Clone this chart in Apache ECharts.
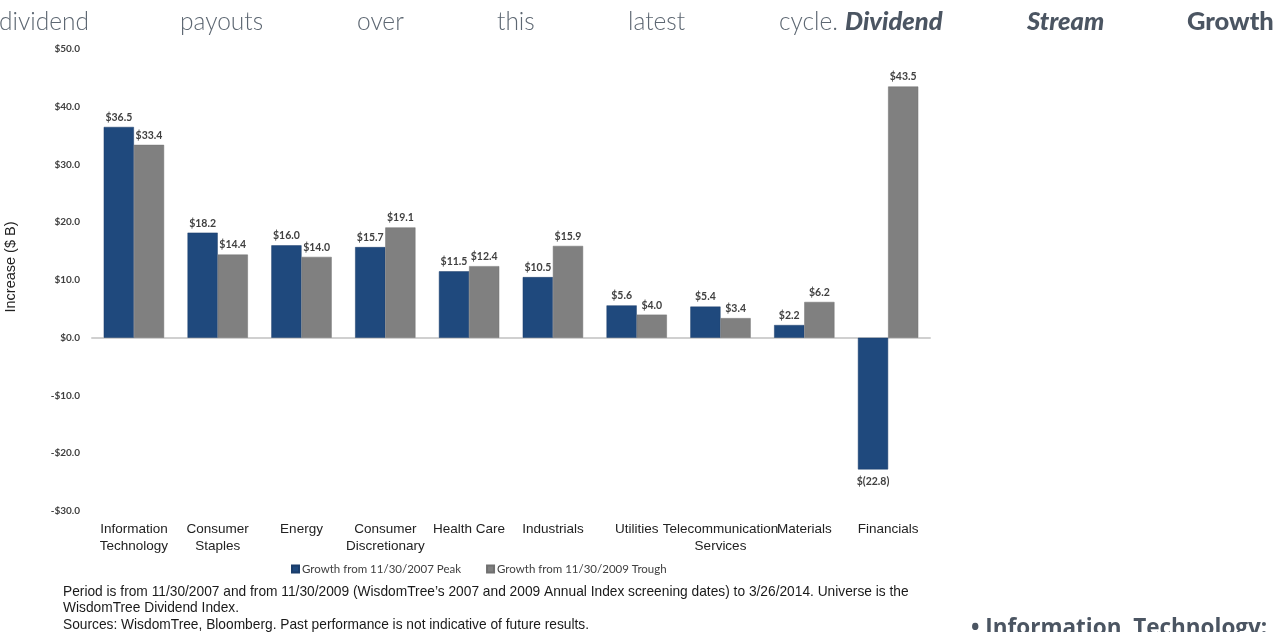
<!DOCTYPE html>
<html><head><meta charset="utf-8">
<script src="https://cdn.jsdelivr.net/npm/echarts@6/dist/echarts.min.js"></script>
<style>html,body{margin:0;padding:0;background:#fff;overflow:hidden}#c{width:1282px;height:632px}</style>
</head><body><div id="c"></div>
<script>
const categories = ['Information\nTechnology','Consumer\nStaples','Energy','Consumer\nDiscretionary','Health Care','Industrials','Utilities','Telecommunication\nServices','Materials','Financials'];
const peakValues = [36.5, 18.2, 16.0, 15.7, 11.5, 10.5, 5.6, 5.4, 2.2, -22.8];
const troughValues = [33.4, 14.4, 14.0, 19.1, 12.4, 15.9, 4.0, 3.4, 6.2, 43.5];
const seriesNames = ['Growth from 11/30/2007 Peak', 'Growth from 11/30/2009 Trough'];

const fmtTick = v => (v < 0 ? '-$' + Math.abs(v).toFixed(1) : '$' + v.toFixed(1));
const fmtLabel = v => (v < 0 ? '$(' + Math.abs(v).toFixed(1) + ')' : '$' + v.toFixed(1));

const chart = echarts.init(document.getElementById('c'));
const labelStyle = {show: true, fontFamily: 'Lato', fontSize: 10.5, fontWeight: 'bold', color: '#404040',
  formatter: p => fmtLabel(p.value), distance: 4, position: 'top'};
const toData = arr => arr.map(v => v < 0 ? {value: v, label: {position: 'bottom', distance: 7}} : v);

const paraWords = [
  ['dividend', -1, false],
  ['payouts', 180, false],
  ['over', 357, false],
  ['this', 497, false],
  ['latest', 628, false],
  ['cycle.', 779, false],
  ['Dividend', 845, 'italic'],
  ['Stream', 1027, 'italic'],
  ['Growth', 1187, 'normal']
];
const graphics = paraWords.map(w => ({
  type: 'text', left: w[1], top: w[2] ? 9 : 10,
  style: w[2]
    ? {text: w[0], font: w[2] + ' 900 25.5px Lato', fill: '#4b5562'}
    : {text: w[0], font: '300 24.5px Lato', fill: '#5d6772'}
}));
graphics.push({type: 'text', x: 11, y: 267, rotation: Math.PI / 2,
  style: {text: 'Increase ($ B)', font: '14.5px "Liberation Sans"', fill: '#222', align: 'center', verticalAlign: 'middle'}});
const notes = [
  'Period is from 11/30/2007 and from 11/30/2009 (WisdomTree\u2019s 2007 and 2009 Annual Index screening dates) to 3/26/2014. Universe is the',
  'WisdomTree Dividend Index.',
  'Sources: WisdomTree, Bloomberg. Past performance is not indicative of future results.'
];
notes.forEach((t, i) => graphics.push({type: 'text', left: 63, top: 585 + i * 16.5,
  style: {text: t, font: '13.75px "Liberation Sans"', fill: '#1a1a1a'}}));
graphics.push({type: 'text', left: 971, top: 617,
  style: {text: '\u2022 Information  Technology:', font: 'bold 22.5px "Open Sans"', fill: '#4b5562'}});

chart.setOption({
  animation: false,
  graphic: graphics,
  legend: {
    data: seriesNames, left: 286, top: 558, itemWidth: 7, itemHeight: 7, itemGap: 25,
    icon: 'rect', textStyle: {fontFamily: 'Lato', fontSize: 11.5, color: '#404040', padding: [0, 0, 0, -2]}
  },
  grid: {left: 92, right: 352, top: 49, bottom: 121, containLabel: false},
  xAxis: [
    {type: 'category', data: categories, position: 'bottom',
      axisLine: {show: true, onZero: true, lineStyle: {color: '#d0d0d0', width: 2}},
      axisTick: {show: false}, axisLabel: {show: false}},
    {type: 'category', data: categories, position: 'bottom',
      axisLine: {show: false, onZero: false}, axisTick: {show: false},
      axisLabel: {show: true, interval: 0, margin: 10, fontFamily: 'Liberation Sans', fontSize: 13.5, color: '#222', lineHeight: 17}}
  ],
  yAxis: {
    type: 'value', min: -30, max: 50, interval: 10,
    axisLine: {show: false}, axisTick: {show: false}, splitLine: {show: false},
    axisLabel: {margin: 12, fontFamily: 'Lato', fontSize: 10, fontWeight: 'bold', color: '#404040', formatter: fmtTick}
  },
  series: [
    {name: seriesNames[0], type: 'bar', data: toData(peakValues), xAxisIndex: 0, barGap: '0%', barCategoryGap: '28%',
      itemStyle: {color: '#1f497d', borderColor: '#1a3d6b', borderWidth: 0.5},
      label: labelStyle},
    {name: seriesNames[1], type: 'bar', data: toData(troughValues), xAxisIndex: 0, barGap: '0%', barCategoryGap: '28%',
      itemStyle: {color: '#808080', borderColor: '#707070', borderWidth: 0.5},
      label: labelStyle}
  ]
});
</script></body></html>
